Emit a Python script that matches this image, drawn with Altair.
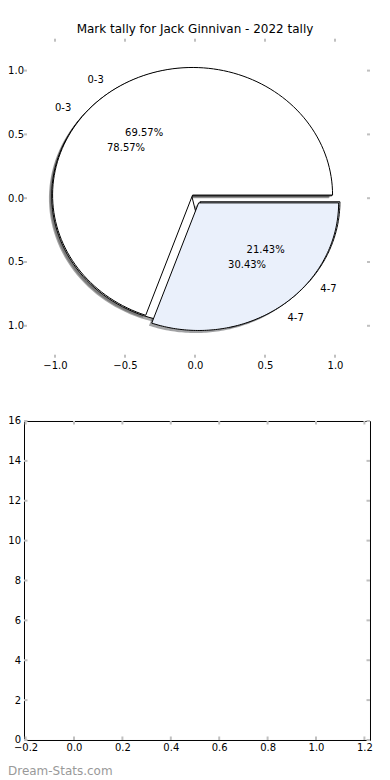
import altair as alt
import pandas as pd

TITLE = "Mark tally for Jack Ginnivan - 2022 tally"
WATERMARK = "Dream-Stats.com"

# ---- data ----
pie_group = ["A", "A", "B", "B"]
slice_order = [0, 1, 0, 1]
slice_labels = ["0-3", "4-7", "0-3", "4-7"]
slice_counts = [11, 3, 16, 7]

pie_ticks = [-1.0, -0.5, 0.0, 0.5, 1.0]
empty_x_ticks = [-0.2, 0.0, 0.2, 0.4, 0.6, 0.8, 1.0, 1.2]
empty_y_ticks = [0, 2, 4, 6, 8, 10, 12, 14, 16]

# ---- styles ----
FONT = "DejaVu Sans"
FILL = {"0-3": "#ffffff", "4-7": "#eaf0fb"}
SHADOW = {"0-3": "#4d4d4d", "4-7": "#46484b"}
EXPLODE = {"0-3": 0.03, "4-7": 0.045}
SHADOW_OFF = 0.02
LABEL_DIST = 1.1
PCT_DIST = 0.6
TICK_GRAY = "#c0c0c0"
N = 120

W = 346
H = 319
X_DOM_PIE = [-1.2214, 1.25]
Y_DOM_PIE = [-1.25, 1.25]
X_DOM_EMPTY = [-0.2066, 1.2231]
Y_DOM_EMPTY = [0, 16]

slices = pd.DataFrame({
    "pie": pie_group,
    "idx": slice_order,
    "label": slice_labels,
    "count": slice_counts,
})
slices["key"] = slices["pie"] + "_" + slices["label"]
slices["explode"] = slices["label"].map(EXPLODE)

axis_common = dict(title="", domain=False, ticks=False, grid=False, labelFont=FONT, labelFontSize=10,
                   labelColor="black")

xs = alt.Scale(domain=X_DOM_PIE, nice=False, zero=False)
ys = alt.Scale(domain=Y_DOM_PIE, nice=False, zero=False)
AX_X_PIE = alt.Axis(values=pie_ticks, format=".1f", labelPadding=2.5, **axis_common)
AX_Y_PIE = alt.Axis(values=pie_ticks, format=".1f", labelPadding=0.5, **axis_common)


def PX(field):
    return alt.X(field, type="quantitative", scale=xs, axis=AX_X_PIE)


def PY(field):
    return alt.Y(field, type="quantitative", scale=ys, axis=AX_Y_PIE)


geom = (
    alt.Chart(slices)
    .transform_joinaggregate(total="sum(count)", groupby=["pie"])
    .transform_window(cum="sum(count)", groupby=["pie"], sort=[alt.SortField("idx", order="ascending")])
    .transform_calculate(t1="2*PI*(datum.cum - datum.count)/datum.total")
    .transform_calculate(t2="2*PI*datum.cum/datum.total")
    .transform_calculate(tm="(datum.t1 + datum.t2)/2")
    .transform_calculate(ex="datum.explode*cos(datum.tm)")
    .transform_calculate(ey="datum.explode*sin(datum.tm)")
)

poly = (
    geom.transform_calculate(s=f"sequence(-1, {N + 1})")
    .transform_flatten(["s"])
    .transform_calculate(ang=f"datum.t1 + (datum.t2 - datum.t1)*max(datum.s, 0)/{N}")
    .transform_calculate(px="datum.ex + (datum.s < 0 ? 0 : cos(datum.ang))")
    .transform_calculate(py="datum.ey + (datum.s < 0 ? 0 : sin(datum.ang))")
    .transform_calculate(sx=f"datum.px - {SHADOW_OFF}")
    .transform_calculate(sy=f"datum.py - {SHADOW_OFF}")
)

keys = list(slices["key"])
labels_of = dict(zip(slices["key"], slices["label"]))

# tick marks (inside the axes box), they carry the axes
pie_tick_df = pd.DataFrame({"v": pie_ticks})
tick_rule = alt.Chart(pie_tick_df).mark_rule(color=TICK_GRAY, strokeWidth=2)
TL = 3
pie_ticks_layers = [
    tick_rule.encode(x=PX("v"), y=alt.value(0), y2=alt.value(TL)),
    tick_rule.encode(y=PY("v"), x=alt.value(0), x2=alt.value(TL)),
    tick_rule.encode(x=PX("v"), y=alt.value(H - TL), y2=alt.value(H)),
    tick_rule.encode(y=PY("v"), x=alt.value(W - TL), x2=alt.value(W)),
]

shadow_layers = []
wedge_layers = []
for k in keys:
    lab = labels_of[k]
    shadow_layers.append(
        poly.transform_filter(alt.datum.key == k)
        .mark_line(interpolate="linear-closed", fill=SHADOW[lab], fillOpacity=0.5, strokeOpacity=0)
        .encode(x=PX("sx"), y=PY("sy"), order="s:Q")
    )
    wedge_layers.append(
        poly.transform_filter(alt.datum.key == k)
        .mark_line(interpolate="linear-closed", fill=FILL[lab], stroke="black", strokeWidth=1)
        .encode(x=PX("px"), y=PY("py"), order="s:Q")
    )

label_base = (
    geom.transform_calculate(lx=f"datum.ex + {LABEL_DIST}*cos(datum.tm)")
    .transform_calculate(ly=f"datum.ey + {LABEL_DIST}*sin(datum.tm)")
    .transform_calculate(qx=f"datum.ex + {PCT_DIST}*cos(datum.tm)")
    .transform_calculate(qy=f"datum.ey + {PCT_DIST}*sin(datum.tm)")
    .transform_calculate(pct="format(datum.count/datum.total*100, '.2f') + '%'")
)

text_style = dict(font=FONT, fontSize=10, color="black", baseline="middle")
label_right = label_base.transform_filter("datum.lx < 0").mark_text(align="right", **text_style).encode(
    x=PX("lx"), y=PY("ly"), text="label:N")
label_left = label_base.transform_filter("datum.lx >= 0").mark_text(align="left", **text_style).encode(
    x=PX("lx"), y=PY("ly"), text="label:N")
pct_text = label_base.mark_text(align="center", **text_style).encode(
    x=PX("qx"), y=PY("qy"), text="pct:N")

# title over the pie, centred on x = 0
title_mark = alt.Chart(pd.DataFrame({"t": [TITLE], "c": [0.0]})).mark_text(
    align="center", baseline="alphabetic", font=FONT, fontSize=12, color="black").encode(
    x=PX("c"), y=alt.value(-5.4), text="t:N")

# invisible anchor fixing the top-left corner of the drawing
anchor_top = alt.Chart(pd.DataFrame({"a": [0]})).mark_rule(strokeOpacity=0, strokeWidth=0).encode(
    x=alt.value(-26), x2=alt.value(-26), y=alt.value(-31), y2=alt.value(-31))

top = alt.layer(*pie_ticks_layers, *shadow_layers, *wedge_layers, label_right, label_left, pct_text,
                title_mark, anchor_top).properties(
    width=W, height=H,
    view=alt.ViewBackground(strokeOpacity=0),
)

# ---- empty lower axes ----
exs = alt.Scale(domain=X_DOM_EMPTY, nice=False, zero=False)
eys = alt.Scale(domain=Y_DOM_EMPTY, nice=False, zero=False)
AX_X_E = alt.Axis(values=empty_x_ticks, format=".1f", labelPadding=2.4, **axis_common)
AX_Y_E = alt.Axis(values=empty_y_ticks, format="d", labelPadding=3.5, **axis_common)
ex_df = pd.DataFrame({"v": empty_x_ticks})
ey_df = pd.DataFrame({"v": empty_y_ticks})
ETL = 3.5
erule = dict(color=TICK_GRAY, strokeWidth=2)
bottom_layers = [
    alt.Chart(ex_df).mark_rule(**erule).encode(
        x=alt.X("v:Q", scale=exs, axis=AX_X_E), y=alt.value(H - ETL), y2=alt.value(H)),
    alt.Chart(ey_df).mark_rule(**erule).encode(
        y=alt.Y("v:Q", scale=eys, axis=AX_Y_E), x=alt.value(0), x2=alt.value(ETL)),
    alt.Chart(ex_df).mark_rule(**erule).encode(
        x=alt.X("v:Q", scale=exs, axis=AX_X_E), y=alt.value(0), y2=alt.value(ETL)),
    alt.Chart(ey_df).mark_rule(**erule).encode(
        y=alt.Y("v:Q", scale=eys, axis=AX_Y_E), x=alt.value(W - ETL), x2=alt.value(W)),
    alt.Chart(pd.DataFrame({"t": [WATERMARK]})).mark_text(
        align="left", baseline="alphabetic", font=FONT, fontSize=12, color="#999999").encode(
        text="t:N", x=alt.value(-16), y=alt.value(354)),
    alt.Chart(pd.DataFrame({"a": [0]})).mark_rule(strokeOpacity=0, strokeWidth=0).encode(
        x=alt.value(W), x2=alt.value(W), y=alt.value(H + 40), y2=alt.value(H + 40)),
]
bottom = alt.layer(*bottom_layers).properties(
    width=W, height=H,
    view=alt.ViewBackground(stroke="black", strokeWidth=1),
)

chart = alt.vconcat(top, bottom, spacing=63.3, bounds="flush").properties(
    padding={"left": -10, "top": -0.3, "right": 0, "bottom": 0},
)

chart.save("out.html", embed_options={"renderer": "svg", "actions": False})
